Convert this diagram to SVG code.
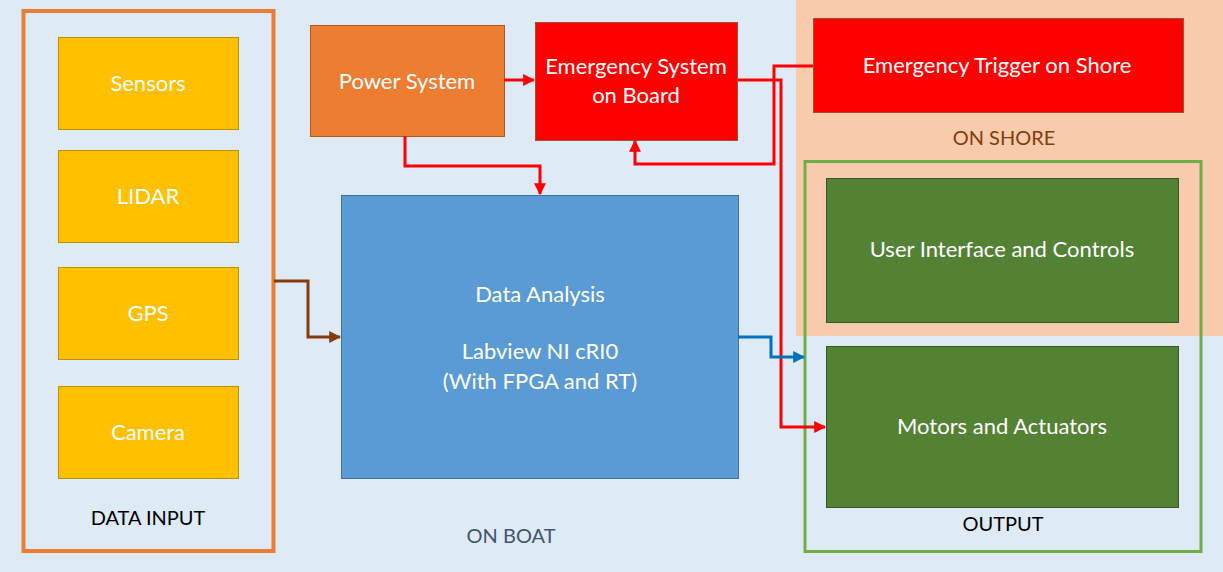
<svg xmlns="http://www.w3.org/2000/svg" width="1223" height="572" viewBox="0 0 1223 572">
<defs>
<style>
.t{font-family:Lato,"Open Sans","Liberation Sans",sans-serif;font-size:22px;text-anchor:middle;fill:#FFFFFF}
.lbl{font-family:Lato,"Open Sans","Liberation Sans",sans-serif;font-size:20px;text-anchor:middle}
.yel{fill:#FFC000;stroke:#BF9000;stroke-width:1}
.grn{fill:#548235;stroke:#385723;stroke-width:1}
.red{fill:#FF0000;stroke:#A0522D;stroke-width:1}
.c{fill:none;stroke-width:3}
</style>
<marker id="ar" viewBox="0 0 10 10" refX="9" refY="5" markerWidth="4" markerHeight="4" orient="auto" markerUnits="strokeWidth"><path d="M0,0 L10,5 L0,10 z" fill="#FF0000"/></marker>
<marker id="ab" viewBox="0 0 10 10" refX="9" refY="5" markerWidth="4" markerHeight="4" orient="auto" markerUnits="strokeWidth"><path d="M0,0 L10,5 L0,10 z" fill="#0070C0"/></marker>
<marker id="an" viewBox="0 0 10 10" refX="9" refY="5" markerWidth="4" markerHeight="4" orient="auto" markerUnits="strokeWidth"><path d="M0,0 L10,5 L0,10 z" fill="#843C0C"/></marker>
</defs>
<rect x="0" y="0" width="1223" height="572" fill="#DEEAF6"/>
<rect x="796" y="0" width="427" height="336" fill="#F8CBAD"/>
<g id="on-boat-label"><text class="lbl" x="511" y="543" fill="#44546A">ON BOAT</text></g>
<g id="on-shore-label"><text class="lbl" x="1004" y="145" fill="#843C0C">ON SHORE</text></g>
<g id="data-input">
<rect x="23.5" y="11" width="250" height="540" fill="none" stroke="#ED7D31" stroke-width="4"/>
<text class="lbl" x="148" y="525" fill="#000000">DATA INPUT</text>
</g>
<g id="sensors"><rect class="yel" x="58.5" y="37.5" width="180" height="92"/><text class="t" x="148" y="91">Sensors</text></g>
<g id="lidar"><rect class="yel" x="58.5" y="150.5" width="180" height="92"/><text class="t" x="148" y="204">LIDAR</text></g>
<g id="gps"><rect class="yel" x="58.5" y="267.5" width="180" height="92"/><text class="t" x="148" y="321">GPS</text></g>
<g id="camera"><rect class="yel" x="58.5" y="386.5" width="180" height="92"/><text class="t" x="148" y="440">Camera</text></g>
<g id="power-system"><rect x="310.5" y="25.5" width="194" height="111" fill="#ED7D31" stroke="#AE5A21" stroke-width="1"/><text class="t" x="407" y="89">Power System</text></g>
<g id="emergency-board"><rect class="red" x="535.5" y="22.5" width="202" height="118"/><text class="t" x="636" y="74">Emergency System</text><text class="t" x="636" y="103">on Board</text></g>
<g id="emergency-shore"><rect class="red" x="813.5" y="18.5" width="370" height="94"/><text class="t" x="997" y="73">Emergency Trigger on Shore</text></g>
<g id="data-analysis"><rect x="341.5" y="195.5" width="397" height="283" fill="#5B9BD5" stroke="#41719C" stroke-width="1"/>
<text class="t" x="540" y="302">Data Analysis</text>
<text class="t" x="540" y="359">Labview NI cRI0</text>
<text class="t" x="540" y="389">(With FPGA and RT)</text></g>
<g id="output">
<rect x="805" y="161.5" width="396" height="390" fill="none" stroke="#70AD47" stroke-width="3"/>
<text class="lbl" x="1003" y="531" fill="#000000">OUTPUT</text>
</g>
<g id="user-interface"><rect class="grn" x="826.5" y="178.5" width="352" height="144"/><text class="t" x="1002" y="257">User Interface and Controls</text></g>
<g id="motors"><rect class="grn" x="826.5" y="346.5" width="352" height="161"/><text class="t" x="1002" y="434">Motors and Actuators</text></g>
<g id="connectors">
<path class="c" stroke="#843C0C" d="M274,281 H308 V337 H340" marker-end="url(#an)"/>
<path class="c" stroke="#FF0000" d="M504,80 H534" marker-end="url(#ar)"/>
<path class="c" stroke="#FF0000" d="M405,136 V166 H540 V194" marker-end="url(#ar)"/>
<path class="c" stroke="#FF0000" d="M813,66 H774 V164 H635 V141" marker-end="url(#ar)"/>
<path class="c" stroke="#FF0000" d="M738,80 H781 V427 H825" marker-end="url(#ar)"/>
<path class="c" stroke="#0070C0" d="M738,337 H771 V357 H804" marker-end="url(#ab)"/>
</g>
</svg>
